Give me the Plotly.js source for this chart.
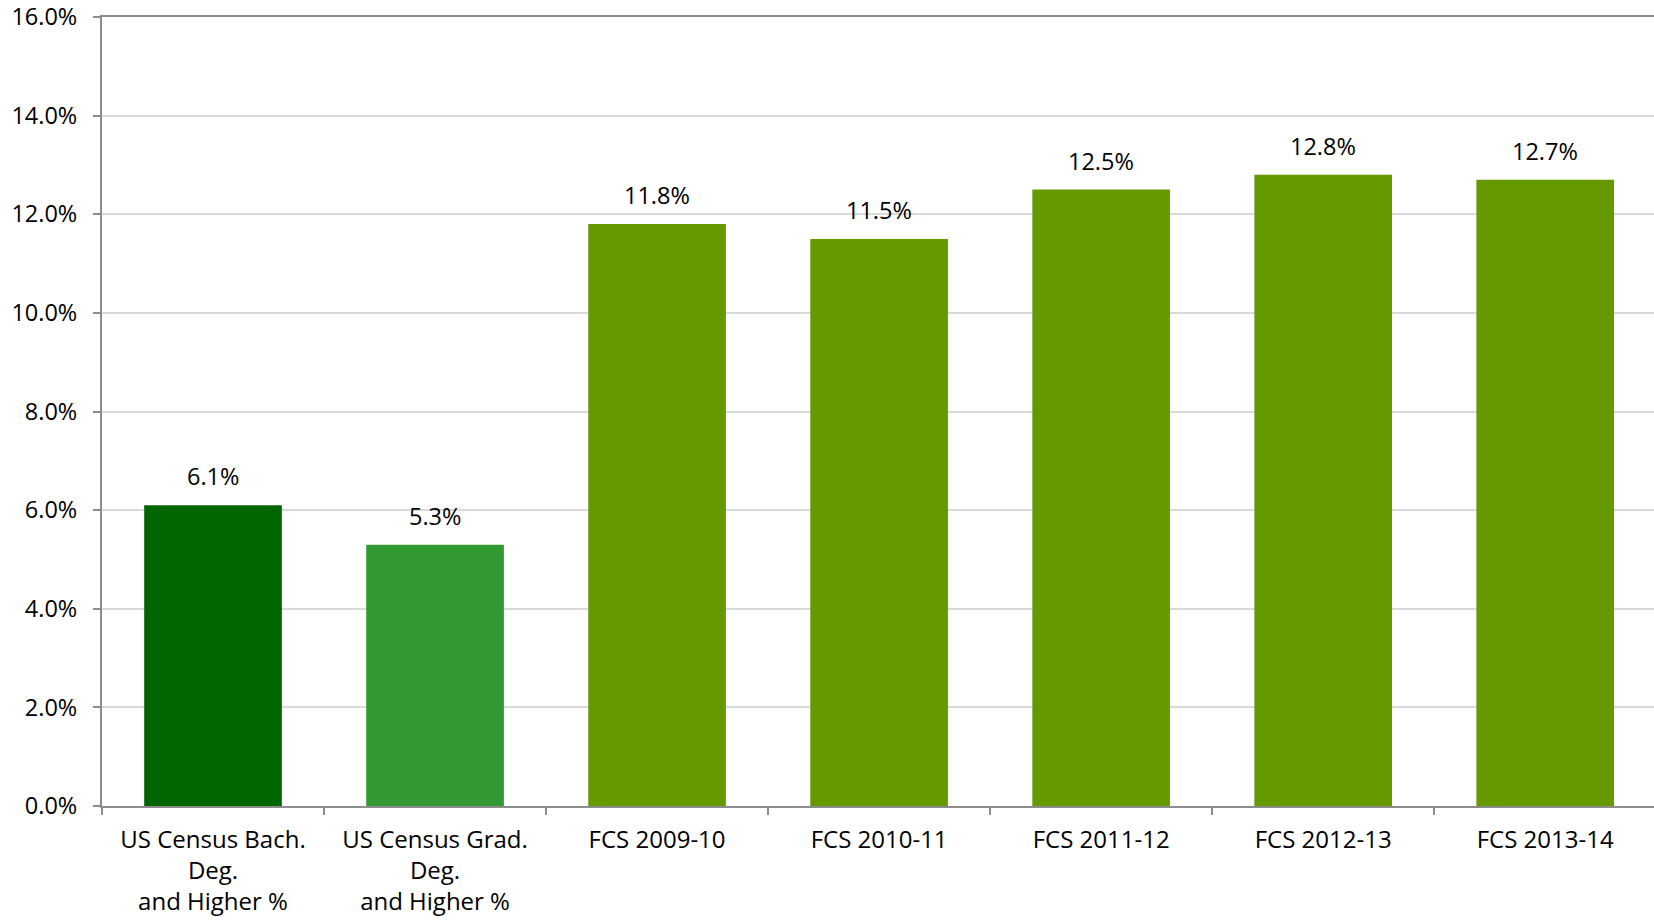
<!DOCTYPE html>
<html>
<head>
<meta charset="utf-8">
<script src="https://cdn.plot.ly/plotly-3.0.1.min.js"></script>
<style>
  body { margin: 0; background: #fff; }
  #chart { width: 1654px; height: 922px; }
</style>
</head>
<body>
<div id="chart"></div>
<script>
// categories and values
var categories = [
  "US Census Bach.<br>Deg.<br>and Higher %",
  "US Census Grad.<br>Deg.<br>and Higher %",
  "FCS 2009-10",
  "FCS 2010-11",
  "FCS 2011-12",
  "FCS 2012-13",
  "FCS 2013-14"
];
var percents = [6.1, 5.3, 11.8, 11.5, 12.5, 12.8, 12.7];
var barColors = ["#006600", "#339933", "#669900", "#669900", "#669900", "#669900", "#669900"];
var yTicks = [0, 2, 4, 6, 8, 10, 12, 14, 16];

var trace = {
  x: categories,
  y: percents,
  type: "bar",
  marker: { color: barColors },
  hoverinfo: "none"
};

// value labels above each bar
var labels = categories.map((c, i) => ({
  x: c,
  y: percents[i],
  text: percents[i].toFixed(1) + "%",
  showarrow: false,
  yanchor: "bottom",
  yshift: 11,
  font: { family: "Open Sans", size: 23.5, color: "#000" }
}));

var layout = {
  width: 1654,
  height: 922,
  margin: { l: 102, r: 0, t: 17, b: 116 },
  paper_bgcolor: "#fff",
  plot_bgcolor: "#fff",
  bargap: 0.38,
  showlegend: false,
  font: { family: "Open Sans", size: 23.5, color: "#000" },
  xaxis: {
    range: [-0.5, 6.49],
    showline: true,
    linecolor: "#8c8c8c",
    linewidth: 2,
    mirror: true,
    ticks: "outside",
    tickson: "boundaries",
    ticklen: 7,
    tickwidth: 2,
    tickcolor: "#8c8c8c",
    ticklabelstandoff: 11,
    tickfont: { family: "Open Sans", size: 24, color: "#000" }
  },
  yaxis: {
    range: [0, 16],
    tickvals: yTicks,
    ticktext: yTicks.map(v => v.toFixed(1) + "%"),
    showline: true,
    linecolor: "#8c8c8c",
    linewidth: 2,
    ticks: "outside",
    ticklen: 7,
    tickwidth: 2,
    tickcolor: "#8c8c8c",
    ticklabelstandoff: 11,
    showgrid: true,
    gridcolor: "#d9d9d9",
    gridwidth: 2,
    zeroline: false,
    tickfont: { family: "Open Sans", size: 23.5, color: "#000" }
  },
  annotations: labels
};

Plotly.newPlot("chart", [trace], layout, { displayModeBar: false, staticPlot: true });
</script>
</body>
</html>
